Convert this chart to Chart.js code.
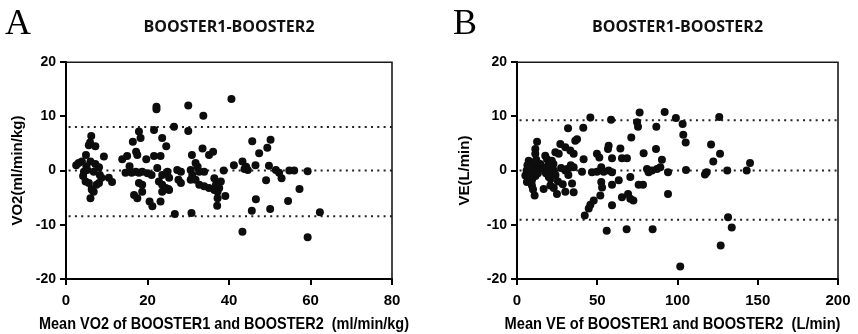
<!DOCTYPE html>
<html><head><meta charset="utf-8">
<script src="https://cdn.jsdelivr.net/npm/chart.js@4"></script>
<style>
html,body{margin:0;padding:0;background:#fff;}
#wrap{position:relative;width:858px;height:334px;overflow:hidden;}
canvas{position:absolute;top:0;}
</style></head><body>
<div id="wrap">
<canvas id="cA" width="430" height="334" style="left:0px"></canvas>
<canvas id="cB" width="428" height="334" style="left:430px"></canvas>
</div>
<script>
// ---------- data ----------
const panelTitle = "BOOSTER1-BOOSTER2";
const yTickValues = [-20, -10, 0, 10, 20];

// Panel A: VO2
const vo2Mean = [3.1,3.9,4.4,4.8,4.9,5.2,5.6,5.6,5.9,6.0,6.2,6.3,6.4,6.8,6.8,6.0,7.2,7.2,7.5,8.1,8.3,8.7,8.1,9.3,10.5,11.3,2.5,5.0,4.2,
 13.8,15.0,14.6,15.6,16.1,16.4,16.7,17.5,17.2,17.5,17.1,17.9,17.9,17.9,18.3,18.7,18.7,18.7,19.7,20.0,20.5,21.2,21.0,21.6,21.6,22.2,22.2,22.4,22.8,23.2,23.2,23.6,23.6,23.6,23.6,24.5,24.6,24.9,25.3,25.3,25.1,26.5,26.7,
 27.3,27.6,28.2,28.2,30.0,30.0,30.9,30.6,31.0,30.6,30.8,31.8,32.3,32.7,31.8,32.7,33.5,33.7,33.9,33.9,35.1,36.1,35.1,36.4,36.8,36.4,37.2,38.0,37.6,39.1,37.2,37.1,38.7,40.6,
 41.2,43.3,44.2,43.8,44.6,43.3,45.7,45.6,46.5,46.6,47.4,49.4,50.2,49.8,49.1,50.1,51.5,52.3,52.9,54.5,54.8,56.0,57.3,59.3,59.3,62.3];
const vo2Diff = [1.4,1.7,-0.2,-2.0,2.9,0.1,4.7,-2.3,5.2,1.7,6.4,-3.4,-3.6,-0.2,-3.9,-5.1,4.5,1.2,-2.6,0.6,-0.8,-1.3,-2.3,2.6,-1.3,-2.1,1.0,0.8,-1.0,
 2.1,2.7,-0.4,0.8,-0.4,5.3,-4.5,-5.1,3.5,2.9,-0.2,-0.4,7.2,-2.3,6.0,-0.2,-2.6,-3.9,2.1,-0.5,-5.7,-6.6,-0.8,7.5,2.7,11.8,11.3,0.5,-2.0,2.7,-5.7,6.0,-0.8,-2.6,-3.9,-3.2,4.5,-0.2,-1.3,-3.6,-3.4,8.1,-8.0,
 0.1,-1.7,-0.2,-2.3,7.3,12.0,2.9,0.1,-0.8,-1.7,-7.8,1.4,0.7,-0.2,-1.7,-2.6,4.1,10.1,-0.2,-2.9,2.9,3.5,-3.2,-1.4,-2.6,-3.6,-3.9,-2.0,-3.2,-4.7,-5.1,-6.5,0.0,13.2,
 1.0,1.7,0.7,0.3,0.1,-11.3,5.4,-7.4,1.0,-5.3,3.2,4.2,5.7,0.9,-1.8,-7.1,0.1,-0.4,-1.4,-5.6,0.0,0.0,-3.4,-0.1,-12.3,-7.7];
const vo2Limits = [8.05, 0, -8.4];   // upper LoA, bias, lower LoA
const vo2XTicks = [0, 20, 40, 60, 80];

// Panel B: VE
const veMean = [5.2,6.2,7.3,7.3,8.3,9.3,9.3,10.4,11.0,11.4,11.4,12.5,12.5,14.5,6.0,8.0,9.0,10.0,11.5,12.0,13.0,6.5,8.5,10.5,
 16.6,17.6,18.7,19.8,20.6,20.8,21.7,22.7,22.9,23.9,24.9,26.0,27.0,30.1,30.1,30.1,31.2,31.8,33.2,34.3,35.3,35.3,35.3,36.3,37.4,40.5,41.3,41.5,18.0,19.0,21.0,23.0,24.0,25.5,27.5,28.5,32.0,33.5,20.0,17.0,
 42.2,44.7,45.7,45.7,46.7,47.8,49.8,49.8,51.3,51.9,52.5,52.5,53.0,54.0,55.9,56.7,57.1,57.1,58.6,59.2,59.2,59.2,59.2,63.4,64.4,65.4,65.4,68.3,68.5,69.2,70.6,70.6,71.2,72.5,74.8,75.4,75.8,76.4,78.5,78.9,81.0,82.0,84.1,84.5,86.6,86.8,87.2,89.3,90.3,92.0,94.1,94.1,99.0,
 101.7,103.2,103.6,105.1,105.3,117.1,118.2,120.9,122.3,126.0,126.5,126.9,131.0,131.5,133.8,143.1,145.2];
const veDiff = [-0.9,-2.1,1.8,-1.2,1.2,-2.75,-1.8,0.6,-4.6,4.0,3.1,5.3,0.3,1.2,0.0,0.3,-0.5,-3.5,-1.0,2.0,-0.5,1.0,-1.2,1.5,
 -3.4,2.75,2.1,-1.2,0.3,-2.75,1.8,1.2,-3.2,3.4,-4.3,3.1,4.9,4.3,0.0,-3.9,0.3,7.8,3.7,-2.4,3.1,0.6,-4.0,5.5,5.8,-0.2,7.9,2.1,-0.5,0.8,-1.5,0.0,-0.8,-2.0,0.5,-2.5,-0.8,1.0,-0.2,0.2,
 -8.3,-7.0,-6.3,9.8,-0.3,-5.5,3.1,-0.2,2.4,-4.6,0.6,-2.1,-3.1,-0.2,-11.1,4.0,4.6,0.0,9.4,2.3,-0.3,-2.6,-6.4,-1.8,4.1,2.3,-4.9,-10.8,2.3,-4.3,-1.2,-5.2,6.1,-5.5,8.9,8.1,-2.6,10.7,-2.6,3.2,0.3,-0.3,0.0,-10.8,4.0,8.1,0.3,0.6,2.0,10.8,-0.3,-4.3,9.7,
 -17.7,8.6,6.6,5.2,0.1,-0.7,-0.3,4.8,1.7,9.9,3.1,-13.8,0.0,-8.6,-10.5,0.0,1.4];
const veLimits = [9.3, 0, -9.05];
const veXTicks = [0, 50, 100, 150, 200];

// ---------- drawing ----------
const FONT_BOLD = '"Liberation Sans", Arial, sans-serif';

const decor = {
  id: 'decor',
  afterDraw(chart, args, opts) {
    const {ctx, chartArea: a} = chart;
    ctx.save();
    // frame (top + right)
    ctx.strokeStyle = '#1a1a1a';
    ctx.lineWidth = 1.6;
    ctx.beginPath();
    ctx.moveTo(a.left, a.top);
    ctx.lineTo(a.right, a.top);
    ctx.lineTo(a.right, a.bottom);
    ctx.stroke();
    // panel letter
    ctx.fillStyle = '#000';
    ctx.font = '36px "Liberation Serif", "Times New Roman", serif';
    ctx.textBaseline = 'alphabetic';
    ctx.textAlign = 'left';
    ctx.fillText(opts.letter, opts.letterX, 34);
    // x-axis title in a condensed look (horizontal squeeze of a bold sans)
    ctx.font = 'bold 17px ' + FONT_BOLD;
    ctx.textAlign = 'center';
    ctx.textBaseline = 'middle';
    const w = ctx.measureText(opts.xTitle).width;
    const sx = Math.min(1, opts.xTitleWidth / w);
    ctx.translate((a.left + a.right) / 2 + opts.xTitleShift, 324);
    ctx.scale(sx, 1);
    ctx.fillText(opts.xTitle, 0, 0);
    ctx.restore();
  }
};

function makeChart(id, letter, letterX, xs, ys, limits, xTicks, yTitle, xTitle, xTitleShift, xTitleWidth, padLeft, yWidth, padRight) {
  const pts = xs.map((x, i) => ({x: x, y: ys[i]}));
  const xmin = xTicks[0], xmax = xTicks[xTicks.length - 1];
  const lineSets = limits.map(v => ({
    type: 'line',
    data: [{x: xmin + (xmax - xmin) * 0.008, y: v}, {x: xmax, y: v}],
    borderColor: '#222', borderWidth: 2, borderDash: [2, 4.3],
    pointRadius: 0, fill: false, order: 2
  }));
  return new Chart(document.getElementById(id), {
    type: 'scatter',
    data: {
      datasets: [{
        data: pts, backgroundColor: '#0d0d0d', borderColor: '#0d0d0d',
        pointRadius: 4, pointHoverRadius: 4, borderWidth: 0, order: 1
      }].concat(lineSets)
    },
    options: {
      responsive: false, animation: false, devicePixelRatio: 1,
      layout: {padding: {left: padLeft, right: padRight, top: 0, bottom: 0}},
      plugins: {
        legend: {display: false}, tooltip: {enabled: false},
        title: {
          display: true, text: panelTitle, fullSize: false,
          color: '#111', font: {family: '"Open Sans", sans-serif', size: 16, weight: 'bold'},
          padding: {top: 18, bottom: 25}
        },
        decor: {letter: letter, letterX: letterX, xTitle: xTitle, xTitleShift: xTitleShift, xTitleWidth: xTitleWidth}
      },
      scales: {
        x: {
          type: 'linear', min: xmin, max: xmax,
          afterBuildTicks: s => { s.ticks = xTicks.map(v => ({value: v})); },
          afterFit: s => { s.height = 55; },
          ticks: {color: '#000', font: {family: FONT_BOLD, size: 15, weight: 'bold'}, padding: 7, maxRotation: 0},
          grid: {drawOnChartArea: false, drawTicks: true, tickLength: 6, color: '#000', lineWidth: 2},
          border: {display: true, color: '#000', width: 2},
          title: {display: false}
        },
        y: {
          type: 'linear', min: -20, max: 20,
          afterBuildTicks: s => { s.ticks = yTickValues.map(v => ({value: v})); },
          afterFit: s => { s.width = yWidth; },
          ticks: {color: '#000', font: {family: FONT_BOLD, size: 14, weight: 'bold'}, padding: 4},
          grid: {drawOnChartArea: false, drawTicks: true, tickLength: 6, color: '#000', lineWidth: 2},
          border: {display: true, color: '#000', width: 2},
          title: {display: true, text: yTitle, color: '#000',
                  font: {family: FONT_BOLD, size: 15, weight: 'bold'}, padding: {top: 9, bottom: 0}}
        }
      }
    },
    plugins: [decor]
  });
}

makeChart('cA', 'A', 5, vo2Mean, vo2Diff, vo2Limits, vo2XTicks, 'VO2(ml/min/kg)',
  'Mean VO2 of BOOSTER1 and BOOSTER2  (ml/min/kg)', -5, 370, 0, 66, 38);
makeChart('cB', 'B', 23, veMean, veDiff, veLimits, veXTicks, 'VE(L/min)',
  'Mean VE of BOOSTER1 and BOOSTER2  (L/min)', -5, 336, 17, 70, 20);
</script>
</body></html>
